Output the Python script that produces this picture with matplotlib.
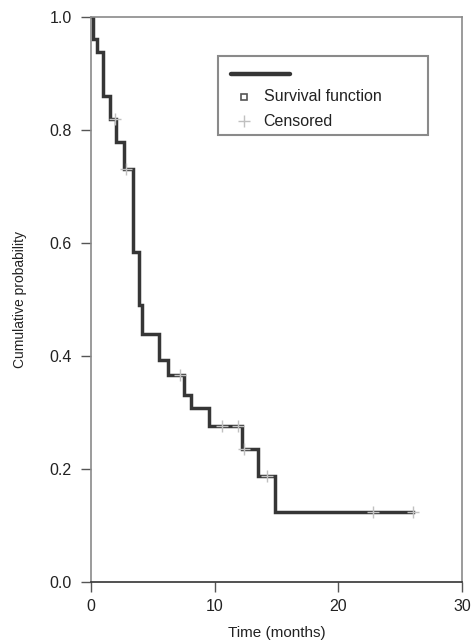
import matplotlib
matplotlib.use("Agg")
import matplotlib.pyplot as plt
from matplotlib.lines import Line2D
from matplotlib.patches import Rectangle

plt.rcParams['font.family'] = ['Liberation Sans', 'DejaVu Sans']

###############################
###          DATA           ###
###############################
# event times (months) and survival level after each drop
event_times = [0.15, 0.45, 1.0, 1.55, 2.0, 2.7, 3.4, 3.85, 4.1,
               5.5, 6.2, 7.5, 8.1, 9.5, 12.2, 13.5, 14.9]
surv_levels = [0.96, 0.938, 0.86, 0.819, 0.778, 0.73, 0.584, 0.49, 0.439,
               0.393, 0.366, 0.331, 0.307, 0.275, 0.235, 0.188, 0.123]
end_time = 26.0

# censored observations
cens_times = [1.9, 2.8, 7.2, 10.6, 11.9, 12.4, 14.2, 22.8, 26.0]
cens_levels = [0.819, 0.73, 0.366, 0.275, 0.275, 0.235, 0.188, 0.123, 0.123]

x_ticks = [0, 10, 20, 30]
y_ticks = [0.0, 0.2, 0.4, 0.6, 0.8, 1.0]

line_col = '#363636'
cens_col = '#c0c0c0'
spine_col = '#8a8a8a'

###############################
###         FIGURE          ###
###############################
fig = plt.figure(figsize=(4.74, 6.43), dpi=100)
ax = fig.add_axes([0.192, 0.095, 0.783, 0.879])

# build step path from the data
xs = [0.0] + event_times + [end_time]
ys = [1.0] + surv_levels + [surv_levels[-1]]
ax.step(xs, ys, where='post', color=line_col, lw=2.5, solid_joinstyle='miter', zorder=2)
ax.plot(cens_times, cens_levels, ls='none', marker='+', ms=9, mew=1.0,
        color=cens_col, zorder=3)

ax.set_xlim(0, 30)
ax.set_ylim(0, 1.0)
ax.set_xticks(x_ticks)
ax.set_yticks(y_ticks)
ax.set_yticklabels(['%.1f' % v for v in y_ticks])
ax.tick_params(axis='both', direction='out', length=7, width=1.0,
               colors='#555555', labelcolor='#222222', labelsize=11.5)
ax.tick_params(axis='y', pad=7)
ax.tick_params(axis='x', pad=5)
for side in ['left', 'top', 'right']:
    ax.spines[side].set_color(spine_col)
    ax.spines[side].set_linewidth(1.2)
ax.spines['bottom'].set_color('#333333')
ax.spines['bottom'].set_linewidth(1.2)

ax.set_xlabel('Time (months)', fontsize=11, color='#222222', labelpad=9)
ax.set_ylabel('Cumulative probability', fontsize=10, color='#222222', labelpad=16)

###############################
###         LEGEND          ###
###############################
tr = ax.transAxes
ax.add_patch(Rectangle((0.343, 0.79), 0.565, 0.14, transform=tr, fill=False,
                       edgecolor=spine_col, lw=1.5, zorder=4))
ax.add_line(Line2D([0.378, 0.535], [0.898, 0.898], transform=tr, color=line_col,
                   lw=3.2, solid_capstyle='round', zorder=5))
ax.plot([0.413], [0.858], transform=tr, ls='none', marker='s', ms=4.5,
        mfc='white', mec='#555555', mew=1.2, zorder=5)
ax.text(0.465, 0.858, 'Survival function', transform=tr, fontsize=11.5,
        va='center', ha='left', color='#222222', zorder=5)
ax.plot([0.413], [0.815], transform=tr, ls='none', marker='+', ms=9, mew=1.0,
        color=cens_col, zorder=5)
ax.text(0.465, 0.815, 'Censored', transform=tr, fontsize=11.5,
        va='center', ha='left', color='#222222', zorder=5)

fig.savefig('out.png', dpi=100)
